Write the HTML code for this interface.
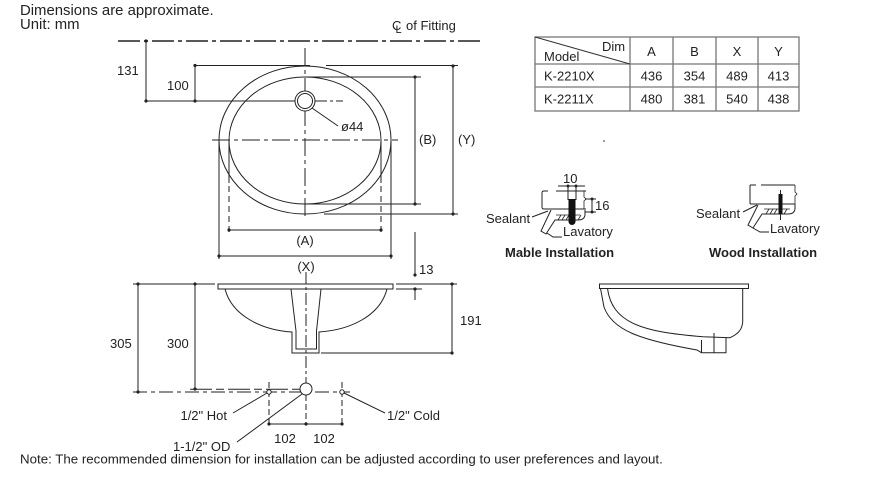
<!DOCTYPE html>
<html><head><meta charset="utf-8"><style>
html,body{margin:0;padding:0;background:#fff;}
svg{display:block;}
text{font-family:"Liberation Sans",Arial,sans-serif;fill:#222;}
</style></head><body>
<svg width="896" height="481" viewBox="0 0 896 481" xmlns="http://www.w3.org/2000/svg">
<g font-size="14.9">
<text x="20" y="15">Dimensions are approximate.</text>
<text x="20" y="29">Unit: mm</text>
</g>
<g font-size="13">
<text x="392" y="30">C</text><text x="395.5" y="33" font-size="11">L</text>
<text x="406" y="30">of Fitting</text>
</g>
<g fill="none" stroke="#222" stroke-width="1">
<line x1="118" y1="41" x2="483" y2="41" stroke-width="1.6" stroke-dasharray="22 4 4 4"/>
<line x1="146" y1="41" x2="146" y2="101"/>
<line x1="195" y1="65" x2="195" y2="101"/>
<line x1="146" y1="101" x2="290" y2="101"/>
<line x1="290" y1="101" x2="343" y2="101" stroke-dasharray="14 3 3 3"/>
<line x1="195" y1="65.5" x2="310" y2="65.5"/>
<line x1="326" y1="65.5" x2="458" y2="65.5"/>
<ellipse cx="305" cy="140" rx="86" ry="74"/>
<ellipse cx="305" cy="140.5" rx="76" ry="63.5"/>
<line x1="305" y1="48" x2="305" y2="217" stroke-dasharray="18 4 4 4"/>
<line x1="212" y1="140" x2="398" y2="140" stroke-dasharray="18 4 4 4"/>
<circle cx="305" cy="101" r="10" fill="#fff"/>
<circle cx="305" cy="101" r="7.5"/>
<line x1="312" y1="108" x2="338" y2="126"/>
<line x1="305" y1="77" x2="421" y2="77"/>
<line x1="305" y1="204" x2="421" y2="204"/>
<line x1="415" y1="77" x2="415" y2="204"/>
<line x1="324" y1="214" x2="458" y2="214"/>
<line x1="453" y1="66" x2="453" y2="214"/>
<line x1="229" y1="140" x2="229" y2="183"/>
<line x1="229" y1="186" x2="229" y2="233" stroke-dasharray="6 4"/>
<line x1="381" y1="140" x2="381" y2="183"/>
<line x1="381" y1="186" x2="381" y2="233" stroke-dasharray="6 4"/>
<line x1="229" y1="230" x2="381" y2="230"/>
<line x1="219" y1="140" x2="219" y2="259"/>
<line x1="391" y1="140" x2="391" y2="259"/>
<line x1="219" y1="256" x2="391" y2="256"/>
<line x1="415" y1="232" x2="415" y2="275"/>
<line x1="415" y1="289" x2="415" y2="300"/>
<line x1="133" y1="284" x2="215" y2="284"/>
<rect x="218" y="284" width="175" height="5" fill="#fff"/>
<line x1="396" y1="284" x2="457" y2="284"/>
<line x1="396" y1="289" x2="422" y2="289"/>
<line x1="138" y1="284" x2="138" y2="392"/>
<line x1="195" y1="284" x2="195" y2="389"/>
<line x1="452" y1="284" x2="452" y2="353"/>
<line x1="321" y1="353" x2="452" y2="353"/>
<path d="M225,289 C232,316 262,330 292,332 L292,353 L319,353 L319,332 C350,330 380,316 387,289"/>
<path d="M291,289 L296,331 L296,349 L316.5,349 L316.5,331 L321,289"/>
<line x1="306" y1="272" x2="306" y2="385" stroke-dasharray="12 3 3 3"/>
<line x1="133" y1="392" x2="350" y2="392" stroke-dasharray="14 4 4 4"/>
<line x1="190" y1="389.3" x2="300" y2="389.3" stroke-dasharray="22 4 8 4"/>
<line x1="269" y1="382" x2="269" y2="424" stroke-dasharray="6 3"/>
<line x1="342" y1="382" x2="342" y2="424" stroke-dasharray="6 3"/>
<line x1="306" y1="395" x2="306" y2="424" stroke-dasharray="6 3"/>
<circle cx="269" cy="392" r="2.2" fill="#fff"/>
<circle cx="342" cy="392" r="2.2" fill="#fff"/>
<circle cx="306" cy="389" r="6" fill="#fff"/>
<line x1="269" y1="424" x2="342" y2="424"/>
<line x1="267" y1="393" x2="233" y2="413"/>
<line x1="344" y1="393" x2="385" y2="413"/>
<line x1="302" y1="394" x2="237" y2="442"/>
</g>
<g fill="#222">
<circle cx="146" cy="41" r="1.6"/><circle cx="146" cy="101" r="1.6"/>
<circle cx="195" cy="65.5" r="1.6"/><circle cx="195" cy="101" r="1.6"/>
<circle cx="415" cy="77" r="1.6"/><circle cx="415" cy="204" r="1.6"/>
<circle cx="453" cy="66" r="1.6"/><circle cx="453" cy="214" r="1.6"/>
<circle cx="229" cy="230" r="1.6"/><circle cx="381" cy="230" r="1.6"/>
<circle cx="219" cy="256" r="1.6"/><circle cx="391" cy="256" r="1.6"/>
<circle cx="415" cy="275" r="1.6"/><circle cx="415" cy="289" r="1.6"/>
<circle cx="138" cy="284" r="1.6"/><circle cx="138" cy="392" r="1.6"/>
<circle cx="195" cy="284" r="1.6"/><circle cx="195" cy="389" r="1.6"/>
<circle cx="452" cy="284" r="1.6"/><circle cx="452" cy="353" r="1.6"/>
<circle cx="269" cy="424" r="1.6"/><circle cx="306" cy="424" r="1.6"/><circle cx="342" cy="424" r="1.6"/>
<circle cx="604" cy="141" r="0.8"/>
</g>
<g font-size="13">
<text x="117" y="75">131</text>
<text x="167" y="90">100</text>
<text x="341" y="131">ø44</text>
<text x="419" y="144">(B)</text>
<text x="458" y="144">(Y)</text>
<text x="305" y="245" text-anchor="middle">(A)</text>
<text x="306" y="271" text-anchor="middle">(X)</text>
<text x="419" y="274">13</text>
<text x="110" y="348">305</text>
<text x="167" y="348">300</text>
<text x="460" y="325">191</text>
<text x="227" y="420" text-anchor="end">1/2" Hot</text>
<text x="387" y="420">1/2" Cold</text>
<text x="173" y="451">1-1/2" OD</text>
<text x="285" y="443" text-anchor="middle">102</text>
<text x="324" y="443" text-anchor="middle">102</text>
<text x="20" y="463.5" font-size="13.3">Note: The recommended dimension for installation can be adjusted according to user preferences and layout.</text>
</g>
<g fill="none" stroke="#777" stroke-width="1.3">
<rect x="535" y="37" width="264" height="74"/>
<line x1="630" y1="37" x2="630" y2="111"/>
<line x1="673" y1="37" x2="673" y2="111"/>
<line x1="716" y1="37" x2="716" y2="111"/>
<line x1="758" y1="37" x2="758" y2="111"/>
<line x1="535" y1="64" x2="799" y2="64"/>
<line x1="535" y1="87" x2="799" y2="87"/>
<line x1="535" y1="37" x2="630" y2="64" stroke="#333" stroke-width="1"/>
</g>
<g font-size="13">
<text x="602" y="51">Dim</text>
<text x="544" y="61">Model</text>
<text x="651.5" y="56" text-anchor="middle">A</text>
<text x="694.5" y="56" text-anchor="middle">B</text>
<text x="737" y="56" text-anchor="middle">X</text>
<text x="778.5" y="56" text-anchor="middle">Y</text>
<text x="544" y="80.5">K-2210X</text>
<text x="651.5" y="80.5" text-anchor="middle">436</text>
<text x="694.5" y="80.5" text-anchor="middle">354</text>
<text x="737" y="80.5" text-anchor="middle">489</text>
<text x="778.5" y="80.5" text-anchor="middle">413</text>
<text x="544" y="103.5">K-2211X</text>
<text x="651.5" y="103.5" text-anchor="middle">480</text>
<text x="694.5" y="103.5" text-anchor="middle">381</text>
<text x="737" y="103.5" text-anchor="middle">540</text>
<text x="778.5" y="103.5" text-anchor="middle">438</text>
</g>
<g fill="none" stroke="#222" stroke-width="1">
<path d="M548,191 L544,191 Q542,191 542,193 L542,207 Q542,209 544,209 L586,209"/>
<line x1="556" y1="191" x2="586" y2="191"/>
<path d="M584,191 L584,197 L586,199 L584,201 L584,209" stroke-width="0.8"/>
<line x1="558" y1="186" x2="585" y2="186"/>
<line x1="568" y1="186" x2="568" y2="200"/>
<line x1="576" y1="186" x2="576" y2="200"/>
<line x1="585" y1="199" x2="596" y2="199"/>
<line x1="585" y1="212" x2="596" y2="212"/>
<line x1="592" y1="199" x2="592" y2="212"/>
<path d="M551,210 L541,231 L546,234 L555,220 L578,220 Q585,220 585,214 L585,210"/>
<path d="M556,215 L580,215" stroke-width="0.8"/>
<path d="M558,220 l3,-5 M562,220 l3,-5 M566,220 l3,-5 M578,220 l3,-5" stroke-width="0.8"/>
<line x1="532" y1="217" x2="548" y2="211"/>
<path d="M547,233 L553,237 L562,237"/>
</g>
<rect x="568.5" y="199" width="7" height="23" fill="#111"/>
<circle cx="572" cy="221.5" r="3.5" fill="#111"/>
<g fill="#222"><circle cx="568" cy="186" r="1.5"/><circle cx="576" cy="186" r="1.5"/><circle cx="592" cy="199" r="1.5"/><circle cx="592" cy="212" r="1.5"/></g>
<g font-size="13">
<text x="563" y="183">10</text>
<text x="595" y="210">16</text>
<text x="486" y="223">Sealant</text>
<text x="563" y="236">Lavatory</text>
<text x="505" y="257" font-weight="bold">Mable Installation</text>
</g>
<g fill="none" stroke="#222" stroke-width="1">
<line x1="750" y1="185" x2="756" y2="185"/>
<line x1="761" y1="185" x2="795" y2="185"/>
<line x1="750" y1="185" x2="750" y2="204"/>
<line x1="750" y1="204" x2="795" y2="204"/>
<path d="M795,185 L795,192 L797,194 L795,196 L795,204" stroke-width="0.8"/>
<path d="M758,205 L748,225 L753,228 L762,214 L788,214 Q795,214 795,208 L795,204"/>
<path d="M764,209 L790,209" stroke-width="0.8"/>
<path d="M766,214 l3,-5 M770,214 l3,-5 M774,214 l3,-5 M784,214 l3,-5" stroke-width="0.8"/>
<line x1="743" y1="212" x2="757" y2="205"/>
<path d="M753,228 L760,232 L769,232"/>
<line x1="780.5" y1="190" x2="780.5" y2="220"/>
</g>
<rect x="778.5" y="194" width="4" height="20" fill="#111"/>
<g font-size="13">
<text x="696" y="218">Sealant</text>
<text x="770" y="233">Lavatory</text>
<text x="709" y="257" font-weight="bold">Wood Installation</text>
</g>
<g fill="none" stroke="#222" stroke-width="1">
<rect x="599.5" y="284" width="149" height="4.5"/>
<path d="M600.5,288.5 L604,307 C612,330 640,340 697,350 L701.5,352.7 L726,352.7 L726,338"/>
<path d="M607.5,288.5 C612,322 640,332 703,336.7 L730,337.7 C738,334 742,330 742.7,322 L742.7,288.5"/>
<line x1="701.5" y1="340" x2="701.5" y2="352.7"/>
<line x1="714" y1="333" x2="714" y2="353"/>
</g>
</svg>
</body></html>
